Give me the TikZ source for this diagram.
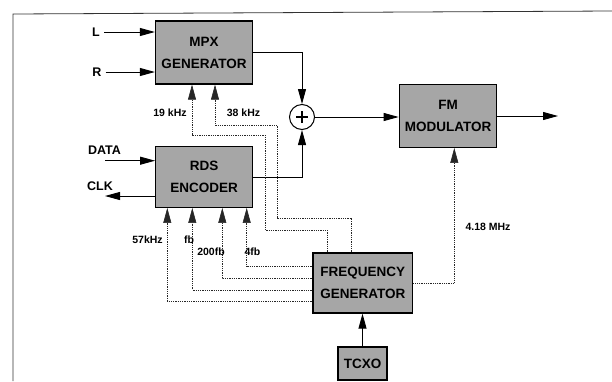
\documentclass[tikz,border=0pt]{standalone}
\usepackage{fontspec}
\setmainfont{Liberation Sans}
\usetikzlibrary{arrows.meta,calc}
\begin{document}
\begin{tikzpicture}[x=1pt,y=-1pt,
  blk/.style={draw, line width=1.3pt, fill=black!35, align=center, inner sep=0pt,
    font=\fontsize{13.5}{22}\selectfont\bfseries},
  lbl/.style={font=\fontsize{10.5}{12}\selectfont\bfseries, inner sep=0pt},
  sig/.style={font=\fontsize{12.5}{14}\selectfont\bfseries, inner sep=0pt},
  conn/.style={line width=0.9pt},
  dot/.style={line width=0.6pt, black!85, dash pattern=on 1pt off 0.8pt},
  tip/.style={-{Triangle[length=15pt,width=8pt]}},
  rtip/.style={{Triangle[length=15pt,width=8pt]}-}]
\useasboundingbox (0,0) rectangle (612,381);
% frame
\draw[line width=0.8pt, black!80] (13,381) -- (13,14) -- (612,11);
% blocks
\node[blk, minimum width=97pt, minimum height=63pt] (mpx) at (204,52.5) {MPX\\GENERATOR};
\node[blk, minimum width=97pt, minimum height=60.6pt] (rds) at (204.2,177) {RDS\\ENCODER};
\node[blk, minimum width=97.4pt, minimum height=63pt] (fm) at (448,115.8) {FM\\MODULATOR};
\node[blk, minimum width=99.7pt, minimum height=60pt] (fg) at (362.8,283) {FREQUENCY\\GENERATOR};
\node[blk, minimum width=49pt, minimum height=33pt] (tcxo) at (362.5,363.5) {TCXO};
% summing junction
\node[draw, circle, line width=1pt, minimum size=25pt, inner sep=0pt] (sum) at (302,117) {};
\draw[line width=1.1pt] ($(sum.center)+(-6,0)$) -- ($(sum.center)+(6,0)$);
\draw[line width=1.1pt] ($(sum.center)+(0,-6)$) -- ($(sum.center)+(0,6)$);
% input labels
\node[sig, inner sep=4pt] (L) at (96,32) {L};
\node[sig, inner sep=4pt] (R) at (97,72) {R};
\node[sig] (data) at (104.5,150) {DATA};
\node[sig] (clk) at (100,185.7) {CLK};
\coordinate (din) at (105,160.7);
\coordinate (cout) at (105,196);
\coordinate (out) at (558,116);
% solid connectors
\draw[conn,tip] (L.east) -- (L.east -| mpx.west);
\draw[conn,tip] (R.east) -- (R.east -| mpx.west);
\draw[conn,tip] (din) -- (din -| rds.west);
\draw[conn,tip] (cout -| rds.west) -- (cout);
\draw[conn,tip] (mpx.east) -| (sum.north);
\draw[conn,tip] (rds.east) -| (sum.south);
\draw[conn,tip] (sum.east) -- (sum.east -| fm.west);
\draw[conn,tip] (fm.east |- out) -- (out);
\draw[conn,tip] (tcxo.north) -- (tcxo.north |- fg.south);
% dotted connectors from frequency generator
\draw[dot,tip] (327,0 |- fg.north) |- (265,230) |- (192,135) -- (192,0 |- mpx.south);
\draw[dot,tip] (351,0 |- fg.north) |- (277,218) |- (215,125) -- (215,0 |- mpx.south);
\draw[dot,tip] (fg.west |- 0,266) -| (246.7,0 |- rds.south);
\draw[dot,tip] (fg.west |- 0,278) -| (222.3,0 |- rds.south);
\draw[dot,tip] (fg.west |- 0,290) -| (192.3,0 |- rds.south);
\draw[dot,tip] (fg.west |- 0,301.7) -| (167.3,0 |- rds.south);
\draw[dot,tip] (fg.east) -| (454.3,0 |- fm.south);
% signal labels
\node[lbl] (l19) at (170,113) {19 kHz};
\node[lbl] (l38) at (243.5,113) {38 kHz};
\node[lbl] (l57) at (147.5,240) {57kHz};
\node[lbl] (lfb) at (189,240) {fb};
\node[lbl] (l200) at (211,251.7) {200fb};
\node[lbl] (l4) at (252.5,252) {4fb};
\node[lbl] (l418) at (488,226.7) {4.18 MHz};
\end{tikzpicture}
\end{document}
